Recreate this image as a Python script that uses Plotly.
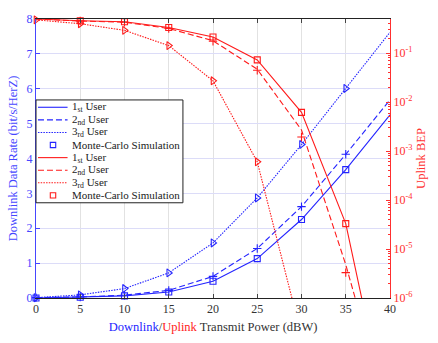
import math
import plotly.graph_objects as go

# ---------------- data ----------------
power_db = [0, 5, 10, 15, 20, 25, 30, 35, 40]
mc_power_db = [0, 5, 10, 15, 20, 25, 30, 35]

# Downlink data rate (bit/s/Hz) - analytic curves
dl_user1 = [0.00, 0.02, 0.06, 0.17, 0.48, 1.13, 2.25, 3.68, 5.25]
dl_user2 = [0.01, 0.03, 0.08, 0.22, 0.62, 1.42, 2.62, 4.12, 5.68]
dl_user3 = [0.01, 0.09, 0.27, 0.72, 1.58, 2.87, 4.40, 6.01, 7.62]
# Downlink Monte-Carlo
dl_mc_user1 = [0.00, 0.02, 0.06, 0.17, 0.48, 1.13, 2.25, 3.68]
dl_mc_user2 = [0.01, 0.03, 0.08, 0.22, 0.62, 1.42, 2.62, 4.12]
dl_mc_user3 = [0.01, 0.09, 0.27, 0.72, 1.58, 2.87, 4.40, 6.01]

# Uplink BEP - analytic curves
ul_user1 = [0.5, 0.46, 0.44, 0.335, 0.214, 0.073, 6.2e-3, 3.3e-5, 2e-9]
ul_user2 = [0.5, 0.455, 0.43, 0.32, 0.18, 0.047, 2.7e-3, 4.8e-6, 3e-9]
ul_user3 = [0.48, 0.40, 0.293, 0.143, 0.0273, 6.05e-4, 1.7e-7, 1e-10, 1e-13]
# Uplink Monte-Carlo
ul_mc_user1 = [0.5, 0.46, 0.44, 0.335, 0.214, 0.073, 6.2e-3, 3.3e-5]
ul_mc_user2 = [0.5, 0.455, 0.43, 0.32, 0.175, 0.045, 1.95e-3, 3.3e-6]
ul_mc_user3 = [0.48, 0.40, 0.293, 0.143, 0.0273, 6.05e-4, 1.7e-7, 1e-10]

legend_labels = ["1<sub>st</sub> User", "2<sub>nd</sub> User", "3<sub>rd</sub> User",
                 "Monte-Carlo Simulation"]
x_ticks = [0, 5, 10, 15, 20, 25, 30, 35, 40]
left_ticks = [0, 1, 2, 3, 4, 5, 6, 7, 8]
right_exps = [-6, -5, -4, -3, -2, -1]

# ---------------- style ----------------
BLUE = "#2424ff"
BLUE_AX = "#4646ff"
RED = "#ff1a1a"
RED_AX = "#ff3030"
FONT = "Liberation Serif"
W, H = 438, 343
ML, MR, MT, MB = 36, 43, 13, 37

fig = go.Figure()

dashes = ["solid", "6px,3px", "1.5px,1.2px"]
mc_symbols = ["square-open", "cross-thin-open", "triangle-right-open"]
mc_sizes = [6, 6, 7]

def add_group(lines, mcs, color, yaxis):
    for i, ys in enumerate(lines):
        fig.add_trace(go.Scatter(x=power_db, y=ys, mode="lines", yaxis=yaxis,
                                 line=dict(color=color, width=1.1, dash=dashes[i]),
                                 showlegend=False, hoverinfo="skip"))
    for i, ys in enumerate(mcs):
        fig.add_trace(go.Scatter(x=mc_power_db, y=ys, mode="markers", yaxis=yaxis,
                                 cliponaxis=False,
                                 marker=dict(symbol=mc_symbols[i], size=mc_sizes[i],
                                             color=color, line=dict(color=color, width=1.1)),
                                 showlegend=False, hoverinfo="skip"))

add_group([dl_user1, dl_user2, dl_user3], [dl_mc_user1, dl_mc_user2, dl_mc_user3], BLUE, "y")
add_group([ul_user1, ul_user2, ul_user3], [ul_mc_user1, ul_mc_user2, ul_mc_user3], RED, "y2")

# ---------------- manual legend (compact, MATLAB-like) ----------------
pw = W - ML - MR
ph = H - MT - MB
def px(x):
    return (x - ML) / pw
def py(y):
    return (H - MB - y) / ph

shapes = [dict(type="rect", xref="paper", yref="paper", layer="above",
               x0=px(36), x1=px(185), y0=py(206), y1=py(98),
               fillcolor="white", line=dict(color="#222222", width=1))]
annotations = []
row_y0, row_dy = 105.7, 13.22
for g, color in enumerate([BLUE, RED]):
    for i, lab in enumerate(legend_labels):
        r = g * 4 + i
        yc = row_y0 + row_dy * r
        if i < 3:
            shapes.append(dict(type="line", xref="paper", yref="paper", layer="above",
                               x0=px(38), x1=px(68), y0=py(yc), y1=py(yc),
                               line=dict(color=color, width=1.1, dash=dashes[i])))
        else:
            shapes.append(dict(type="rect", xref="paper", yref="paper", layer="above",
                               x0=px(50.5), x1=px(56), y0=py(yc + 2.75), y1=py(yc - 2.75),
                               line=dict(color=color, width=1.1)))
        annotations.append(dict(xref="paper", yref="paper", x=px(70), y=py(yc),
                                xanchor="left", yanchor="middle", showarrow=False,
                                text=lab, font=dict(family=FONT, size=11, color="#222222")))

fig.update_layout(
    width=W, height=H,
    margin=dict(l=ML, r=MR, t=MT, b=MB, pad=0),
    paper_bgcolor="white", plot_bgcolor="white",
    font=dict(family=FONT, size=12, color="#333333"),
    showlegend=False,
    shapes=shapes, annotations=annotations,
    xaxis=dict(range=[0, 40], tickvals=x_ticks, ticks="inside", ticklen=4,
               tickcolor="#444444", showline=True, linecolor="#222222", linewidth=1,
               mirror="ticks", showgrid=True, gridcolor="#e2e2e2", zeroline=False,
               tickfont=dict(family=FONT, size=12, color="#333333"),
               title=dict(text="<span style='color:#2424ff'>Downlink</span>/"
                               "<span style='color:#ff1a1a'>Uplink</span> Transmit Power (dBW)",
                          font=dict(family=FONT, size=12.5, color="#333333"), standoff=6)),
    yaxis=dict(range=[0, 8], tickvals=left_ticks, ticks="inside", ticklen=4,
               tickcolor=BLUE_AX, showline=True, linecolor=BLUE_AX, linewidth=1,
               showgrid=True, gridcolor="#dcdcf8", zeroline=False,
               tickfont=dict(family=FONT, size=12, color=BLUE_AX),
               title=dict(text="Downlink Data Rate (bit/s/HerZ)",
                          font=dict(family=FONT, size=12.5, color=BLUE_AX), standoff=6)),
    yaxis2=dict(type="log", range=[-6, math.log10(0.5)], overlaying="y", side="right",
                tickvals=[10 ** e for e in right_exps],
                ticktext=["10<sup>%d</sup>" % e for e in right_exps],
                ticks="inside", ticklen=4, tickcolor=RED_AX,
                minor=dict(ticks="inside", ticklen=2, tickcolor=RED_AX, dtick="D1", showgrid=False),
                showline=True, linecolor=RED_AX, linewidth=1,
                showgrid=False, zeroline=False,
                tickfont=dict(family=FONT, size=12, color=RED_AX),
                title=dict(text="Uplink BEP",
                           font=dict(family=FONT, size=12.5, color=RED_AX), standoff=4)),
)

fig.write_html("out.html")
